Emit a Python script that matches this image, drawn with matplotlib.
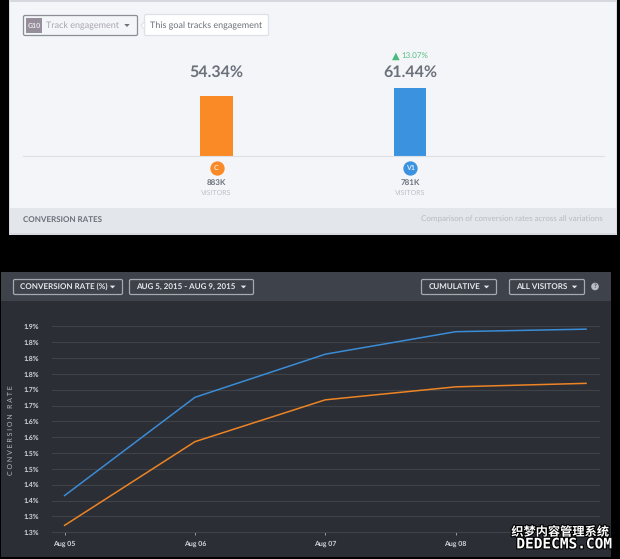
import matplotlib
matplotlib.use('Agg')
import matplotlib.pyplot as plt
import matplotlib.patheffects as pe
from matplotlib.patches import Rectangle, FancyBboxPatch, Circle, Polygon
from matplotlib.transforms import ScaledTranslation

plt.rcParams['font.family'] = ['Lato', 'DejaVu Sans']
plt.rcParams['text.hinting'] = 'no_hinting'
plt.rcParams['text.hinting_factor'] = 1

W, H = 620, 559

# top chart
variations = ['C', 'V1']
rates = [54.34, 61.44]
rate_labels = ['54.34%', '61.44%']
visitors = ['883K', '781K']
bar_colors = ['#FA8A25', '#3B93E0']

# bottom chart
dates = ['Aug 05', 'Aug 06', 'Aug 07', 'Aug 08', 'Aug 09']
v1_rate = [1.366, 1.676, 1.812, 1.883, 1.891]
c_rate = [1.272, 1.536, 1.668, 1.709, 1.720]
y_ticks = [1.25, 1.30, 1.35, 1.40, 1.45, 1.50, 1.55, 1.60, 1.65, 1.70, 1.75, 1.80, 1.85, 1.90]
y_labels = ['1.3%', '1.3%', '1.4%', '1.4%', '1.5%', '1.5%', '1.6%', '1.6%',
            '1.7%', '1.7%', '1.8%', '1.8%', '1.8%', '1.9%']


def px_axes(fig, x0, y0, x1, y1):
    # rectangle given in image pixels, y going down
    return fig.add_axes([x0 / W, 1 - y1 / H, (x1 - x0) / W, (y1 - y0) / H])


def button(ax, x0, y0, x1, y1, edge, face='none', lw=0.9):
    ax.add_patch(FancyBboxPatch((x0 + 1, y0 + 1), x1 - x0 - 2, y1 - y0 - 2,
                                boxstyle='round,pad=1,rounding_size=1.5',
                                ec=edge, fc=face, lw=lw))


def arrow(ax, cx, cy, color, w=4.5, h=2.5):
    ax.add_patch(Polygon([[cx - w / 2, cy - h / 2], [cx + w / 2, cy - h / 2], [cx, cy + h / 2]],
                         closed=True, fc=color, ec='none'))


fig = plt.figure(figsize=(W / 100, H / 100), dpi=100, facecolor='black')

# page chrome, drawn in pixel coordinates
ui = fig.add_axes([0, 0, 1, 1], zorder=0)
ui.set_xlim(0, W)
ui.set_ylim(H, 0)
ui.axis('off')

ui.add_patch(Rectangle((9, 0), 608, 235, fc='#D5D8DE', ec='none'))
ui.add_patch(Rectangle((10, 2), 606, 231, fc='#F3F5F8', ec='none'))
ui.add_patch(Rectangle((10, 208), 606, 25, fc='#E3E6EB', ec='none'))

button(ui, 23.5, 15.5, 137.5, 35.5, '#8B8E96', lw=0.9)
ui.add_patch(Rectangle((26, 18), 16, 15, fc='#968E9B', ec='none'))
ui.text(34, 25.7, 'G10', color='#E9E7EB', fontsize=4.8, fontweight='bold', ha='center', va='center')
ui.text(45.5, 25.5, 'Track engagement', color='#A9A4AF', fontsize=6.6, va='center')
arrow(ui, 127, 25.5, '#6E717A', w=5.5, h=3)

button(ui, 144.5, 14.5, 268.5, 35.5, '#DDE0E6', face='white')
ui.add_patch(Polygon([[144.8, 21.5], [141, 25.5], [144.8, 29.5]], closed=True,
                     fc='white', ec='#DDE0E6', lw=0.7))
ui.text(150, 25.5, 'This goal tracks engagement', color='#6A6E78', fontsize=6.6, va='center')

ui.text(23, 219.5, 'CONVERSION RATES', color='#6A6E78', fontsize=5.8, fontweight='bold', va='center')
ui.text(603, 219.5, 'Comparison of conversion rates across all variations', color='#B7BBC3',
        fontsize=5.45, ha='right', va='center')

ui.add_patch(Rectangle((1, 272), 610, 285, fc='#2B2E35', ec='none'))
ui.add_patch(Rectangle((1, 272), 610, 29, fc='#3D424B', ec='none'))

for x0, x1, label in [(13.5, 122.5, 'CONVERSION RATE (%)'),
                      (129.5, 253.5, 'AUG 5, 2015 - AUG 9, 2015'),
                      (421.5, 496.5, 'CUMULATIVE'),
                      (509.5, 584.5, 'ALL VISITORS')]:
    button(ui, x0, 279.5, x1, 294.5, '#A5A9B0')
    ui.text(x0 + 7, 286.8, label, color='#E6E8EB', fontsize=5.5, fontweight='bold', va='center')
    arrow(ui, x1 - 10, 287, '#E6E8EB', w=5.5, h=2.8)
ui.add_patch(Circle((595, 286.5), 3.8, fc='#B9BCC2', ec='none'))
ui.text(595, 286.6, '?', color='#3D424B', fontsize=4.2, fontweight='bold', ha='center', va='center')
ui.text(11, 430, 'C O N V E R S I O N   R A T E', color='#B4B7BD', fontsize=4.7, rotation=90,
        ha='center', va='center')

# bar chart: xlim puts the two bars at one and two thirds of the axis line
bar_ax = px_axes(fig, 23, 60, 603.5, 155.5)
bar_ax.set_zorder(1)
bar_ax.patch.set_visible(False)
bar_x = list(range(len(variations)))
bar_ax.bar(bar_x, rates, width=0.17, color=bar_colors)
bar_ax.set_xlim(-1, 2)
bar_ax.set_ylim(0, 95.5 / 1.097)
bar_ax.set_yticks([])
bar_ax.set_xticks([])
for s in ['top', 'left', 'right']:
    bar_ax.spines[s].set_visible(False)
bar_ax.spines['bottom'].set_color('#DDE0E5')
bar_ax.spines['bottom'].set_linewidth(0.8)

# labels sit at a fixed height above the baseline, not on the bar tops
circle_shift = ScaledTranslation(0, -12.5 / 100, fig.dpi_scale_trans)
for i, v in enumerate(rates):
    bar_ax.annotate(rate_labels[i], (i, 0), xytext=(0, 83), textcoords='offset pixels',
                    color='#6B707B', fontsize=11.5, fontweight='bold', ha='center', va='center')
    bar_ax.annotate(visitors[i], (i, 0), xytext=(0, -27), textcoords='offset pixels',
                    color='#6B707B', fontsize=5.8, fontweight='bold', ha='center', va='center')
    bar_ax.annotate('VISITORS', (i, 0), xytext=(0, -37), textcoords='offset pixels',
                    color='#BDC0C8', fontsize=5, ha='center', va='center')
    bar_ax.plot([i], [0], marker='o', ms=10.3, mfc=bar_colors[i], mec='none', clip_on=False,
                transform=bar_ax.transData + circle_shift)
    bar_ax.annotate(variations[i], (i, 0), xytext=(0, -12.7), textcoords='offset pixels',
                    color='#F7E6D5' if i == 0 else '#DCEBFA', fontsize=4.8, fontweight='bold',
                    ha='center', va='center')
bar_ax.annotate('▲', (1, 0), xytext=(-13.8, 99.5), textcoords='offset pixels',
                color='#4CB87D', fontsize=7, ha='center', va='center', fontfamily='DejaVu Sans')
bar_ax.annotate('13.07%', (1, 0), xytext=(5, 99.5), textcoords='offset pixels',
                color='#56BE84', fontsize=6, ha='center', va='center')

# line chart
ax = px_axes(fig, 52, 326.3, 598.7, 532.3)
ax.set_zorder(1)
ax.patch.set_visible(False)
x = list(range(len(dates)))
ax.plot(x, v1_rate, color='#3B8CD6', lw=1.1, clip_on=False)
ax.plot(x, c_rate, color='#EE8424', lw=1.1, clip_on=False)
ax.set_xlim(-0.097, 4.097)
ax.set_ylim(1.25, 1.90)
ax.set_yticks(y_ticks)
ax.set_yticklabels(y_labels, fontweight='bold')
ax.set_xticks(x[:4])
ax.set_xticklabels(dates[:4], fontweight='bold')
ax.tick_params(axis='y', length=0, pad=9.4, labelsize=5.2, labelcolor='#D3D5D9')
ax.tick_params(axis='x', length=2.5, width=0.5, color='#C8CACE', direction='out', pad=3.4,
               labelsize=4.9, labelcolor='#D3D5D9')
ax.grid(axis='y', color='#3F4246', lw=0.8, clip_on=False)
ax.set_axisbelow(True)
for s in ax.spines.values():
    s.set_visible(False)

# watermark over the corner
top = fig.add_axes([0, 0, 1, 1], zorder=2)
top.set_xlim(0, W)
top.set_ylim(H, 0)
top.axis('off')
outline = [pe.withStroke(linewidth=1.6, foreground='black')]
top.text(609, 532, '织梦内容管理系统', color='white', fontsize=8.8, fontweight='bold', ha='right', va='center',
         family=['Noto Sans CJK SC', 'DejaVu Sans'], path_effects=outline)
top.text(609, 544.5, 'DEDECMS.COM', color='white', fontsize=10.4, fontweight='bold', ha='right', va='center',
         family='DejaVu Sans Mono', path_effects=outline)

fig.savefig('out.png', dpi=100, facecolor='black')
